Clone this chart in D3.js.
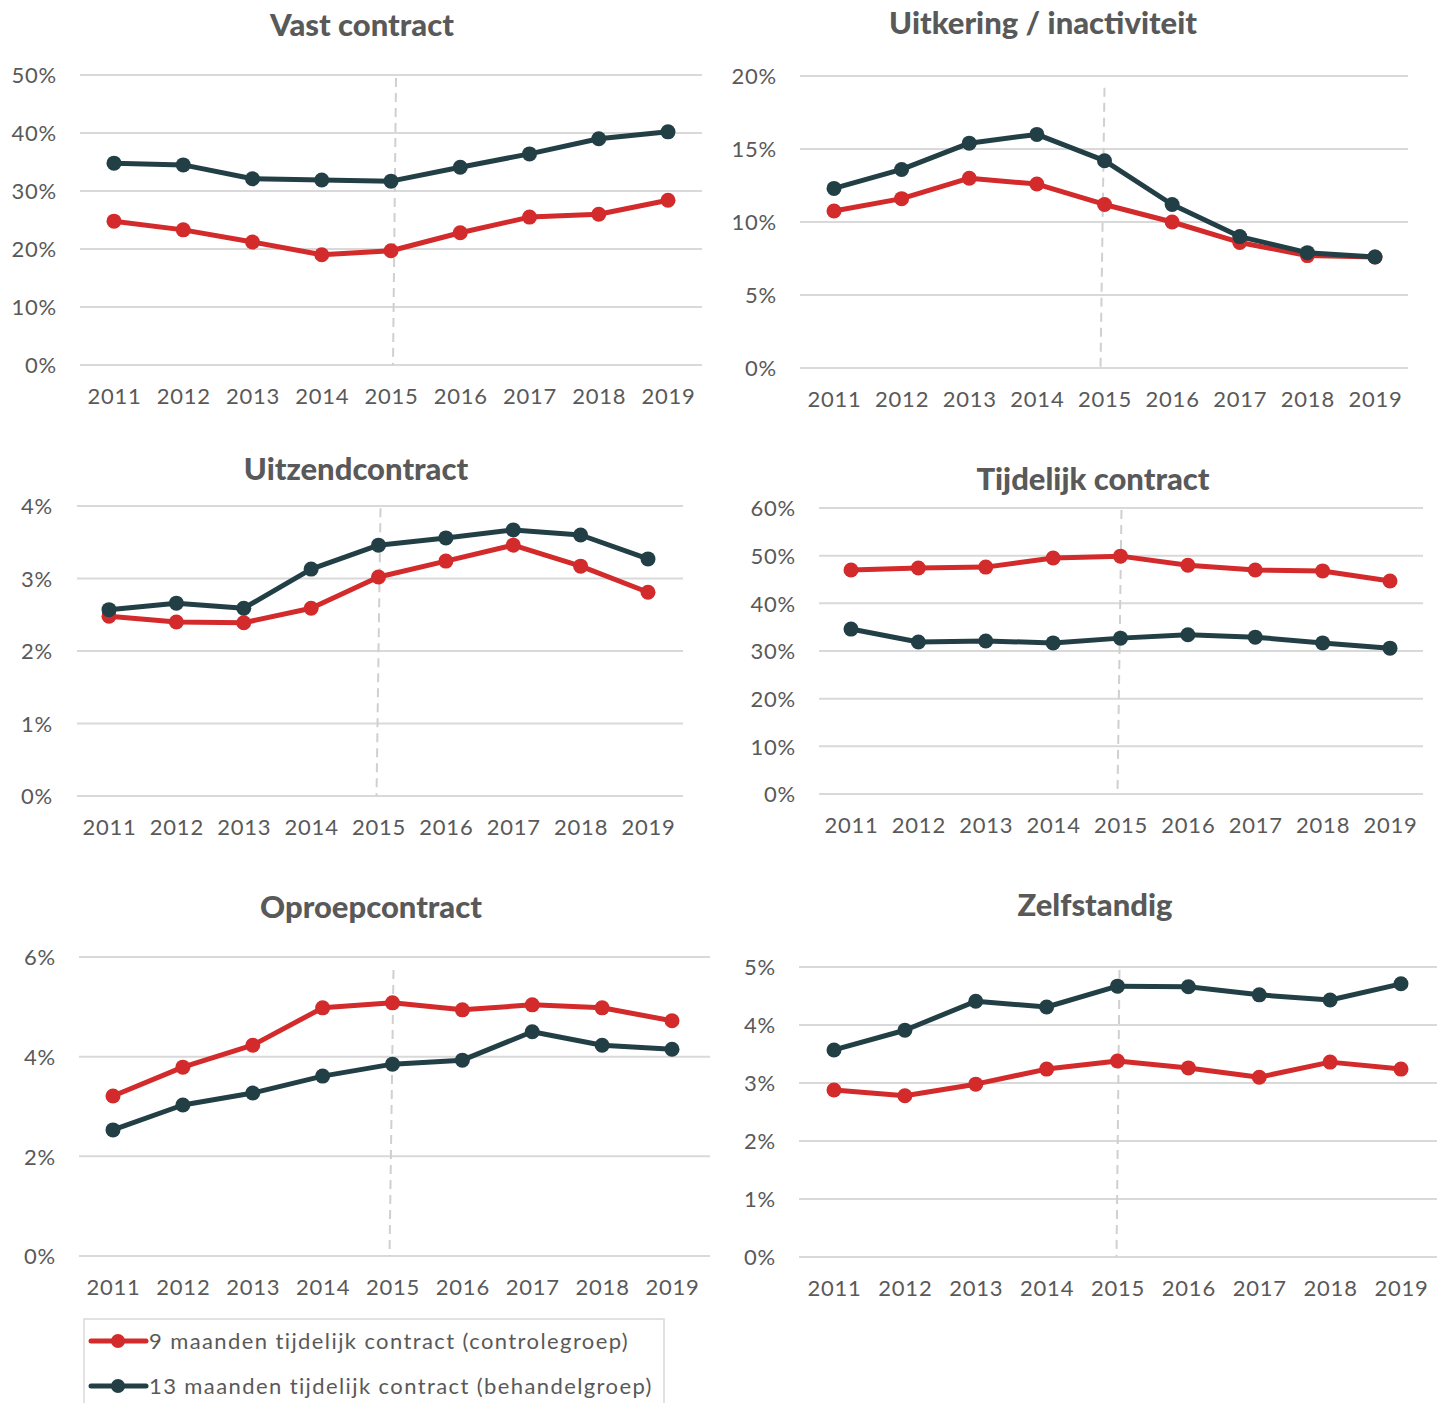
<!DOCTYPE html>
<html><head><meta charset="utf-8">
<script src="https://cdn.jsdelivr.net/npm/d3@7"></script>
<style>body{margin:0;background:#fff}</style></head>
<body><svg id="c" width="1444" height="1403"></svg>
<script>
const years = [2011, 2012, 2013, 2014, 2015, 2016, 2017, 2018, 2019];
const seriesNames = ["9 maanden tijdelijk contract (controlegroep)", "13 maanden tijdelijk contract (behandelgroep)"];
const titles = ["Vast contract", "Uitkering / inactiviteit", "Uitzendcontract", "Tijdelijk contract", "Oproepcontract", "Zelfstandig"];

const vastControl = [24.8, 23.3, 21.2, 19.0, 19.7, 22.8, 25.5, 26.0, 28.4];
const vastTreat   = [34.8, 34.5, 32.1, 31.9, 31.7, 34.1, 36.4, 39.0, 40.2];
const uitkControl = [10.75, 11.6, 13.0, 12.6, 11.2, 10.0, 8.6, 7.7, 7.6];
const uitkTreat   = [12.3, 13.6, 15.4, 16.0, 14.2, 11.2, 9.0, 7.9, 7.6];
const uitzControl = [2.48, 2.40, 2.39, 2.59, 3.02, 3.24, 3.46, 3.17, 2.81];
const uitzTreat   = [2.57, 2.66, 2.59, 3.13, 3.46, 3.56, 3.67, 3.60, 3.27];
const tijdControl = [47.0, 47.4, 47.6, 49.5, 49.9, 48.0, 47.0, 46.8, 44.7];
const tijdTreat   = [34.6, 31.9, 32.1, 31.7, 32.7, 33.4, 32.9, 31.7, 30.6];
const oproControl = [3.21, 3.79, 4.23, 4.98, 5.08, 4.94, 5.04, 4.98, 4.72];
const oproTreat   = [2.53, 3.03, 3.27, 3.61, 3.85, 3.93, 4.50, 4.23, 4.15];
const zelfControl = [2.88, 2.78, 2.98, 3.24, 3.38, 3.26, 3.10, 3.36, 3.24];
const zelfTreat   = [3.57, 3.91, 4.41, 4.31, 4.67, 4.66, 4.52, 4.43, 4.71];

const ticksVast = [0, 10, 20, 30, 40, 50];
const ticksUitk = [0, 5, 10, 15, 20];
const ticksUitz = [0, 1, 2, 3, 4];
const ticksTijd = [0, 10, 20, 30, 40, 50, 60];
const ticksOpro = [0, 2, 4, 6];
const ticksZelf = [0, 1, 2, 3, 4, 5];

const colControl = "#d32a2b";
const colTreat = "#233f46";
const textCol = "#595959";
const gridCol = "#d9d9d9";

const panels = [
  {title: titles[0], control: vastControl, treat: vastTreat, ticks: ticksVast,
   left: 80, right: 702, top: 75, bottom: 365, x0: 114, x1: 668, titleX: 362, titleY: 25, labelRight: 57,
   dash: {top: 49.5, dxTop: 5, dxBottom: 2}},
  {title: titles[1], control: uitkControl, treat: uitkTreat, ticks: ticksUitk,
   left: 800, right: 1408, top: 76, bottom: 368, x0: 834, x1: 1375, titleX: 1043, titleY: 23, labelRight: 777,
   dash: {top: 19.2, dxTop: 0, dxBottom: -4}},
  {title: titles[2], control: uitzControl, treat: uitzTreat, ticks: ticksUitz,
   left: 77, right: 683, top: 506, bottom: 796, x0: 109, x1: 648, titleX: 356, titleY: 469, labelRight: 53,
   dash: {top: 3.97, dxTop: 2, dxBottom: -2}},
  {title: titles[3], control: tijdControl, treat: tijdTreat, ticks: ticksTijd,
   left: 819, right: 1423, top: 508, bottom: 794, x0: 851, x1: 1390, titleX: 1093, titleY: 479, labelRight: 796,
   dash: {top: 59.6, dxTop: 1, dxBottom: -3}},
  {title: titles[4], control: oproControl, treat: oproTreat, ticks: ticksOpro,
   left: 79, right: 710, top: 957, bottom: 1256, x0: 113, x1: 672, titleX: 371, titleY: 907, labelRight: 56,
   dash: {top: 5.74, dxTop: 1, dxBottom: -3}},
  {title: titles[5], control: zelfControl, treat: zelfTreat, ticks: ticksZelf,
   left: 799, right: 1437, top: 967, bottom: 1257, x0: 834, x1: 1401, titleX: 1095, titleY: 905, labelRight: 776,
   dash: {top: 4.95, dxTop: 2, dxBottom: -1}}
];

const svg = d3.select("#c");
const font = "Lato, 'Open Sans', sans-serif";

panels.forEach(p => {
  const g = svg.append("g");
  const maxV = p.ticks[p.ticks.length - 1];
  const y = d3.scaleLinear().domain([0, maxV]).range([p.bottom, p.top]);
  const x = d3.scalePoint().domain(years).range([p.x0, p.x1]);

  g.selectAll("line.grid").data(p.ticks).join("line")
    .attr("x1", p.left).attr("x2", p.right)
    .attr("y1", d => y(d)).attr("y2", d => y(d))
    .attr("stroke", gridCol).attr("stroke-width", 2);

  const yAxis = d3.axisLeft(y).tickValues(p.ticks).tickFormat(d => d + "%").tickSize(0).tickPadding(0);
  const ya = g.append("g").attr("transform", `translate(${p.labelRight},0)`).call(yAxis);
  ya.select(".domain").remove();
  ya.selectAll("text").attr("font-family", font).attr("font-size", 22).attr("font-weight", 400)
    .attr("letter-spacing", 0.8).attr("fill", textCol).attr("dy", "0.36em");

  const xAxis = d3.axisBottom(x).tickSize(0).tickPadding(0);
  const xa = g.append("g").attr("transform", `translate(0,${p.bottom + 39})`).call(xAxis);
  xa.select(".domain").remove();
  xa.selectAll("text").attr("font-family", font).attr("font-size", 22).attr("font-weight", 400)
    .attr("letter-spacing", 0.8).attr("fill", textCol).attr("dy", 0);

  g.append("line")
    .attr("x1", x(2015) + p.dash.dxTop).attr("y1", y(p.dash.top))
    .attr("x2", x(2015) + p.dash.dxBottom).attr("y2", y(0))
    .attr("stroke", "#d0d0d0").attr("stroke-width", 2).attr("stroke-dasharray", "9,6");

  g.append("text").attr("x", p.titleX).attr("y", p.titleY + 11)
    .attr("text-anchor", "middle").attr("font-family", font).attr("font-weight", 900)
    .attr("font-size", 31).attr("fill", textCol).text(p.title);

  const line = d3.line().x((d, i) => x(years[i])).y(d => y(d));
  [[p.control, colControl], [p.treat, colTreat]].forEach(([vals, col]) => {
    g.append("path").datum(vals).attr("d", line).attr("fill", "none")
      .attr("stroke", col).attr("stroke-width", 5).attr("stroke-linejoin", "round");
    g.selectAll(null).data(vals).join("circle")
      .attr("cx", (d, i) => x(years[i])).attr("cy", d => y(d)).attr("r", 7.5).attr("fill", col);
  });
});

const lg = svg.append("g");
lg.append("rect").attr("x", 84).attr("y", 1319).attr("width", 580).attr("height", 100)
  .attr("fill", "none").attr("stroke", gridCol).attr("stroke-width", 1.5);
const legendItems = [[seriesNames[0], colControl], [seriesNames[1], colTreat]];
legendItems.forEach(([name, col], i) => {
  const yy = 1341 + i * 45;
  lg.append("line").attr("x1", 91).attr("x2", 146).attr("y1", yy).attr("y2", yy)
    .attr("stroke", col).attr("stroke-width", 5).attr("stroke-linecap", "round");
  lg.append("circle").attr("cx", 118).attr("cy", yy).attr("r", 7).attr("fill", col);
  lg.append("text").attr("x", 149).attr("y", yy).attr("dy", "0.36em")
    .attr("font-family", font).attr("font-size", 22).attr("font-weight", 400)
    .attr("letter-spacing", 1.4).attr("fill", textCol).text(name);
});
</script></body></html>
